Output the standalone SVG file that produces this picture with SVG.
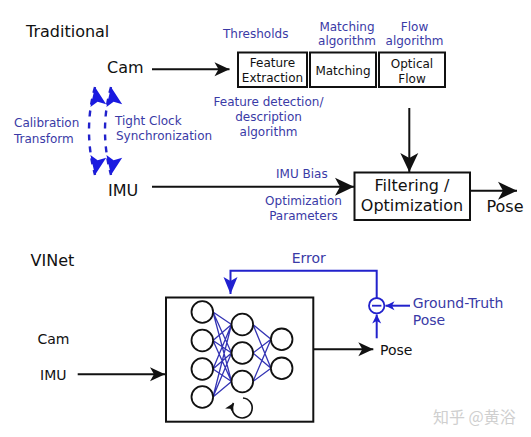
<svg xmlns="http://www.w3.org/2000/svg" width="531" height="437" viewBox="0 0 531 437">
<defs>
<style>
text{font-family:"DejaVu Sans","Liberation Sans",sans-serif;}
.k{fill:#111;}
.b{fill:#3a3aa6;}
.t16{font-size:16px;}
.t14{font-size:14px;}
.t12{font-size:12px;}
.mid{text-anchor:middle;}
.box{fill:#fff;stroke:#111;stroke-width:2;}
.ln{fill:none;stroke:#111;stroke-width:2;}
.bl{fill:none;stroke:#2222cc;stroke-width:2;}
.nn{fill:none;stroke:#3434b4;stroke-width:1.3;}
.cir{fill:#fff;stroke:#111;stroke-width:1.8;}
</style>
<marker id="ak" viewBox="-16 -8 17 16" refX="0" refY="0" markerWidth="17" markerHeight="16" markerUnits="userSpaceOnUse" orient="auto">
<path d="M0,0 L-15,-7 L-11,0 L-15,7 Z" fill="#111"/>
</marker>
<marker id="akL" viewBox="-20 -10 21 20" refX="0" refY="0" markerWidth="21" markerHeight="20" markerUnits="userSpaceOnUse" orient="auto">
<path d="M0,0 L-19,-9 L-14,0 L-19,9 Z" fill="#111"/>
</marker>
<marker id="akS" viewBox="-10 -5 11 10" refX="0" refY="0" markerWidth="11" markerHeight="10" markerUnits="userSpaceOnUse" orient="auto">
<path d="M0,0 L-9,-4.5 L-6.5,0 L-9,4.5 Z" fill="#111"/>
</marker>
<marker id="abL" viewBox="-18 -8 19 16" refX="0" refY="0" markerWidth="19" markerHeight="16" markerUnits="userSpaceOnUse" orient="auto">
<path d="M0,0 L-17,-7 L-13,0 L-17,7 Z" fill="#2020d0"/>
</marker>
<marker id="abS" viewBox="-10 -5 11 10" refX="0" refY="0" markerWidth="11" markerHeight="10" markerUnits="userSpaceOnUse" orient="auto">
<path d="M0,0 L-9,-4.5 L-6.5,0 L-9,4.5 Z" fill="#2020d0"/>
</marker>
<marker id="abUp" viewBox="-20 -9 21 18" refX="0" refY="0" markerWidth="21" markerHeight="18" markerUnits="userSpaceOnUse" orient="-100">
<path d="M0,0 L-19,-8 L-15,0 L-19,8 Z" fill="#1a1ae0"/>
</marker>
<marker id="abDn" viewBox="-20 -9 21 18" refX="0" refY="0" markerWidth="21" markerHeight="18" markerUnits="userSpaceOnUse" orient="100">
<path d="M0,0 L-19,-8 L-15,0 L-19,8 Z" fill="#1a1ae0"/>
</marker>
</defs>
<rect width="531" height="437" fill="#fff"/>

<!-- Traditional section -->
<text class="k t16" x="26" y="36.5">Traditional</text>

<g id="cam-top"><text class="k t16" x="107" y="73.3">Cam</text></g>
<g id="imu-top"><text class="k t16" x="108" y="196">IMU</text></g>

<g id="feature-extraction">
<rect class="box" x="238" y="52.5" width="69" height="34.5"/>
<text class="k t12 mid" x="272.5" y="66.5">Feature</text>
<text class="k t12 mid" x="272.5" y="81.5">Extraction</text>
</g>
<g id="matching">
<rect class="box" x="310" y="52.5" width="66" height="34.5"/>
<text class="k t12 mid" x="343" y="74.5">Matching</text>
</g>
<g id="optical-flow">
<rect class="box" x="379" y="52.5" width="66" height="34.5"/>
<text class="k t12 mid" x="412" y="67.5">Optical</text>
<text class="k t12 mid" x="412" y="82.5">Flow</text>
</g>
<g id="filtering">
<rect class="box" x="354.5" y="172.5" width="115.5" height="47.5"/>
<text class="k t16 mid" x="412" y="190.5">Filtering /</text>
<text class="k t16 mid" x="412" y="211">Optimization</text>
</g>
<g id="pose-top"><text class="k t16" x="486.5" y="212">Pose</text></g>

<g id="labels-top">
<text class="b t12" x="223" y="38.3">Thresholds</text>
<text class="b t12 mid" x="347" y="30.5">Matching</text>
<text class="b t12 mid" x="347" y="45">algorithm</text>
<text class="b t12 mid" x="414.5" y="30.5">Flow</text>
<text class="b t12 mid" x="414.5" y="45">algorithm</text>
<text class="b t12 mid" x="268.5" y="106">Feature detection/</text>
<text class="b t12 mid" x="268.5" y="121">description</text>
<text class="b t12 mid" x="268.5" y="136">algorithm</text>
<text class="b t12" x="276" y="178.3">IMU Bias</text>
<text class="b t12 mid" x="303.5" y="205">Optimization</text>
<text class="b t12 mid" x="303.5" y="220">Parameters</text>
<text class="b t12" x="14" y="127.3">Calibration</text>
<text class="b t12" x="14" y="142.7">Transform</text>
<text class="b t12" x="115" y="125">Tight Clock</text>
<text class="b t12" x="116" y="140">Synchronization</text>
</g>

<!-- VINet section -->
<text class="k t16" x="30.5" y="266">VINet</text>
<g id="cam-bottom"><text class="k t14" x="37.5" y="344">Cam</text></g>
<g id="imu-bottom"><text class="k t14" x="40" y="380">IMU</text></g>

<g id="vinet">
<rect class="box" x="166" y="297.5" width="147.3" height="124.2"/>
<g class="nn">
<path d="M213,312 L231.5,324.5 M213,312 L231.5,353 M213,312 L231.5,381.5
M213,340.5 L231.5,324.5 M213,340.5 L231.5,353 M213,340.5 L231.5,381.5
M213,369 L231.5,324.5 M213,369 L231.5,353 M213,369 L231.5,381.5
M213,397 L231.5,324.5 M213,397 L231.5,353 M213,397 L231.5,381.5
M253,324.5 L271,339.3 M253,324.5 L271,368.3
M253,353 L271,339.3 M253,353 L271,368.3
M253,381.5 L271,339.3 M253,381.5 L271,368.3"/>
</g>
<circle class="cir" cx="202.3" cy="312" r="10.8"/>
<circle class="cir" cx="202.3" cy="340.5" r="10.8"/>
<circle class="cir" cx="202.3" cy="369" r="10.8"/>
<circle class="cir" cx="202.3" cy="397" r="10.8"/>
<circle class="cir" cx="242.3" cy="324.5" r="10.8"/>
<circle class="cir" cx="242.3" cy="353" r="10.8"/>
<circle class="cir" cx="242.3" cy="381.5" r="10.8"/>
<circle class="cir" cx="281.7" cy="339.3" r="10.8"/>
<circle class="cir" cx="281.7" cy="368.3" r="10.8"/>
<path class="ln" style="stroke-width:1.6" d="M243,398 A10 10 0 1 1 233.5,403" marker-end="url(#akS)"/>
</g>

<g id="pose-bottom"><text class="k t14" x="380" y="355">Pose</text></g>

<g id="subtract">
<circle cx="376.7" cy="305.7" r="7.7" fill="#fff" stroke="#2222cc" stroke-width="1.8"/>
<line x1="372" y1="305.7" x2="381.4" y2="305.7" stroke="#2222cc" stroke-width="1.8"/>
</g>
<g id="ground-truth">
<text class="b t14" x="412.7" y="308.3">Ground-Truth</text>
<text class="b t14" x="412.7" y="325">Pose</text>
</g>
<text class="b t14" x="291.7" y="263.3">Error</text>

<!-- connectors -->
<g id="connectors">
<line class="ln" x1="152" y1="69.3" x2="229.5" y2="69.3" marker-end="url(#ak)"/>
<line class="ln" x1="152" y1="186.7" x2="354" y2="186.7" marker-end="url(#akL)"/>
<line class="ln" x1="409.3" y1="108" x2="409.3" y2="172" marker-end="url(#akL)"/>
<line class="ln" x1="470" y1="190.7" x2="517" y2="190.7" marker-end="url(#akL)"/>
<path class="bl" style="stroke-width:2.4" stroke-dasharray="6,6" d="M95,87 Q83,130 95,175" marker-start="url(#abUp)" marker-end="url(#abDn)"/>
<path class="bl" style="stroke-width:2.4" stroke-dasharray="6,6" d="M111,87 Q99,130 111,175" marker-start="url(#abUp)" marker-end="url(#abDn)"/>
<line class="ln" x1="77.7" y1="374.3" x2="165" y2="374.3" marker-end="url(#ak)"/>
<line class="ln" x1="313.3" y1="349.3" x2="373.3" y2="349.3" marker-end="url(#ak)"/>
<path class="bl" d="M376.7,298 L376.7,270.7 L230.5,270.7 L230.5,294" marker-end="url(#abL)"/>
<line class="bl" x1="410" y1="305.7" x2="385.5" y2="305.7" marker-end="url(#abS)"/>
<line class="bl" x1="376.7" y1="338.3" x2="376.7" y2="314.5" marker-end="url(#abS)"/>
</g>

<text x="433" y="423" font-size="16" fill="#cfcfcf" style="font-family:'Noto Sans CJK SC','DejaVu Sans',sans-serif">知乎 @黄浴</text>
</svg>
